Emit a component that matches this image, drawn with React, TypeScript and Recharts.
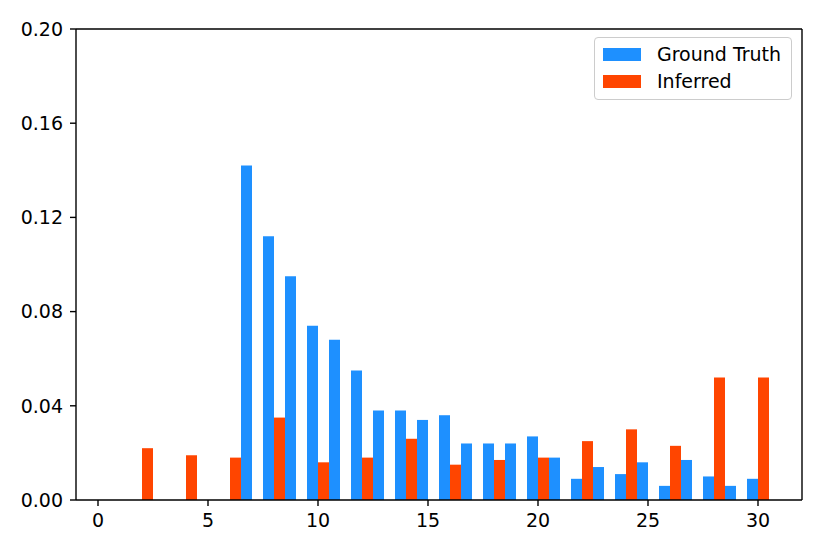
import React from "react"
import { BarChart, Bar, XAxis, YAxis, Legend, ReferenceLine } from "recharts"

// left edge of each histogram bin (width 1)
const binStarts = [2, 3, 4, 5, 6, 7, 8, 9, 10, 11, 12, 13, 14, 15, 16, 17, 18, 19, 20, 21, 22, 23, 24, 25, 26, 27, 28, 29, 30]

const groundTruth = [
  0, 0, 0, 0, 0.142, 0.112, 0.095, 0.074, 0.068, 0.055, 0.038, 0.038, 0.034, 0.036, 0.024,
  0.024, 0.024, 0.027, 0.018, 0.009, 0.014, 0.011, 0.016, 0.006, 0.017, 0.01, 0.006, 0.009, 0,
]

const inferred = [
  0.022, 0, 0.019, 0, 0.018, 0, 0.035, 0, 0.016, 0, 0.018, 0, 0.026, 0, 0.015,
  0, 0.017, 0, 0.018, 0, 0.025, 0, 0.03, 0, 0.023, 0, 0.052, 0, 0.052,
]

const xTicks = [0, 5, 10, 15, 20, 25, 30]
const yTicks = [0, 0.04, 0.08, 0.12, 0.16, 0.2]

const series = [
  { key: "truth", name: "Ground Truth", color: "#1E90FF" },
  { key: "inferred", name: "Inferred", color: "#FF4500" },
]

const FONT = "'DejaVu Sans', sans-serif"

const data = binStarts.map((b, i) => ({
  x: b + 0.5,
  truth: groundTruth[i],
  inferred: inferred[i],
}))

function LegendBox() {
  return (
    <div
      style={{
        width: 198,
        height: 63,
        border: "1px solid #cccccc",
        borderRadius: 4,
        background: "#fff",
        fontFamily: FONT,
        fontSize: 19,
        boxSizing: "border-box",
        position: "relative",
      }}
    >
      {series.map((s, i) => (
        <div key={s.key} style={{ position: "absolute", left: 8, top: 9.5 + i * 27.7, height: 13, display: "flex", alignItems: "center" }}>
          <div style={{ width: 38, height: 13, background: s.color }} />
          <span style={{ marginLeft: 16, color: "#000", whiteSpace: "nowrap", lineHeight: "13px" }}>{s.name}</span>
        </div>
      ))}
    </div>
  )
}

export default function App() {
  const tickStyle = { fontSize: 19, fill: "#000", fontFamily: FONT }
  return (
    <div style={{ position: "absolute", left: 0, top: 0, width: 830, height: 554, background: "#fff" }}>
      <BarChart
        width={830}
        height={554}
        data={data}
        margin={{ top: 29, right: 28, bottom: 24, left: 0 }}
        barGap={0}
        barCategoryGap={0}
        style={{ fontFamily: FONT }}
      >
        <XAxis
          dataKey="x"
          type="number"
          domain={[-1, 32]}
          ticks={xTicks}
          allowDataOverflow
          height={30}
          tickSize={6}
          tickMargin={8}
          stroke="#000"
          strokeWidth={1.4}
          tick={tickStyle}
        />
        <YAxis
          domain={[0, 0.2]}
          ticks={yTicks}
          width={76}
          tickSize={6}
          tickMargin={7}
          stroke="#000"
          strokeWidth={1.4}
          tick={tickStyle}
          tickFormatter={(v: number) => v.toFixed(2)}
        />
        <ReferenceLine y={0.2} stroke="#000" strokeWidth={1.4} />
        <ReferenceLine x={32} stroke="#000" strokeWidth={1.4} />
        <Legend
          layout="vertical"
          align="center"
          verticalAlign="middle"
          content={() => <LegendBox />}
          wrapperStyle={{ left: 594, top: 37, width: 198, height: 63 }}
        />
        <Bar dataKey="inferred" name="Inferred" fill="#FF4500" barSize={10.999} isAnimationActive={false} />
        <Bar dataKey="truth" name="Ground Truth" fill="#1E90FF" barSize={10.999} isAnimationActive={false} />
      </BarChart>
    </div>
  )
}
